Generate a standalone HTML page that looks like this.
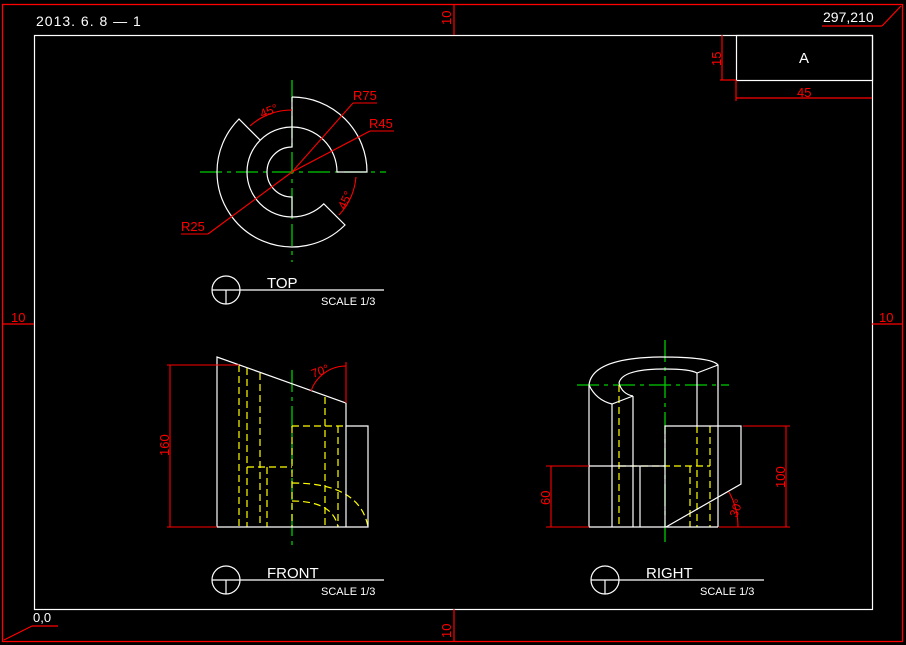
<!DOCTYPE html>
<html><head><meta charset="utf-8"><style>
html,body{margin:0;padding:0;background:#000;}
svg{display:block;}
text{font-family:"Liberation Sans",sans-serif;}
</style></head><body>
<svg width="906" height="645" viewBox="0 0 906 645" xmlns="http://www.w3.org/2000/svg">
<rect width="906" height="645" fill="#000"/>
<!-- borders -->
<rect x="2.5" y="4.5" width="900" height="637" fill="none" stroke="#f00" stroke-width="1.3"/>
<rect x="34.5" y="35.5" width="838" height="574" fill="none" stroke="#fff" stroke-width="1.2"/>
<g stroke="#f00" stroke-width="1.2" fill="none">
<line x1="2" y1="324" x2="34" y2="324"/>
<line x1="872" y1="324" x2="903" y2="324"/>
<line x1="454" y1="4" x2="454" y2="35"/>
<line x1="454" y1="609" x2="454" y2="641"/>
<line x1="822" y1="26" x2="882" y2="26" stroke="#f00"/>
<line x1="882" y1="26" x2="901" y2="6"/>
<line x1="32" y1="626" x2="58" y2="626"/>
<line x1="32" y1="626" x2="4" y2="640"/>
</g>
<g fill="#f00" font-size="13">
<text x="11" y="322">10</text>
<text x="879" y="322">10</text>
<text transform="translate(451,25) rotate(-90)">10</text>
<text transform="translate(451,638) rotate(-90)">10</text>
</g>
<g fill="#fff" font-size="14">
<text x="36" y="26" letter-spacing="1">2013. 6. 8 — 1</text>
<text x="823" y="22">297,210</text>
<text x="33" y="622" font-size="13">0,0</text>
</g>
<!-- title block -->
<rect x="736.5" y="35.5" width="136" height="45" fill="none" stroke="#fff" stroke-width="1.2"/>
<text x="799" y="63" fill="#fff" font-size="15">A</text>
<g stroke="#f00" stroke-width="1.2">
<line x1="722" y1="35" x2="722" y2="80"/><line x1="720" y1="80" x2="736" y2="80"/>
<line x1="736" y1="98" x2="872" y2="98"/><line x1="736" y1="80" x2="736" y2="101"/>
</g>
<text transform="translate(721,66) rotate(-90)" fill="#f00" font-size="13">15</text>
<text x="797" y="97" fill="#f00" font-size="13">45</text>

<!-- TOP VIEW -->
<g stroke="#0c0" stroke-width="1.3" stroke-dasharray="22,5,4,5">
<line x1="200" y1="172" x2="386" y2="172"/>
<line x1="292" y1="80" x2="292" y2="262"/>
</g>
<g stroke="#fff" stroke-width="1.2" fill="none">
<path d="M292,97 A75,75 0 0 1 367,172 L337,172 A45,45 0 0 0 292,127 A45,45 0 0 0 260.2,140.2 L239,119 A75,75 0 0 0 217,172 A75,75 0 0 0 345,225 L323.8,203.8 A45,45 0 0 1 292,217 A45,45 0 0 1 247,172 A45,45 0 0 1 260.2,140.2"/>
<path d="M292,97 L292,147 A25,25 0 0 0 292,197 L292,217"/>
</g>
<g stroke="#f00" stroke-width="1.1" fill="none">
<line x1="292" y1="172" x2="353" y2="103"/><line x1="353" y1="103" x2="377" y2="103"/>
<line x1="292" y1="172" x2="370" y2="131"/><line x1="370" y1="131" x2="394" y2="131"/>
<line x1="292" y1="172" x2="208" y2="234"/><line x1="181" y1="234" x2="208" y2="234"/>
<path d="M292,110 A62,62 0 0 0 250,126"/>
<path d="M356,177 A64,64 0 0 1 339,215"/>
</g>
<g fill="#f00" font-size="13">
<text x="353" y="100">R75</text>
<text x="369" y="128">R45</text>
<text x="181" y="231">R25</text>
<text transform="translate(262,118) rotate(-22)" font-size="12">45°</text>
<text transform="translate(345,210) rotate(-65)" font-size="12">45°</text>
</g>
<!-- labels -->
<g stroke="#fff" stroke-width="1.2" fill="none">
<circle cx="226" cy="290" r="14"/><line x1="212" y1="290" x2="384" y2="290"/><line x1="226" y1="290" x2="226" y2="304"/>
<circle cx="226" cy="580" r="14"/><line x1="212" y1="580" x2="384" y2="580"/><line x1="226" y1="580" x2="226" y2="594"/>
<circle cx="605" cy="580" r="14"/><line x1="591" y1="580" x2="764" y2="580"/><line x1="605" y1="580" x2="605" y2="594"/>
</g>
<g fill="#fff">
<text x="267" y="288" font-size="15">TOP</text>
<text x="321" y="305" font-size="11">SCALE 1/3</text>
<text x="267" y="578" font-size="15">FRONT</text>
<text x="321" y="595" font-size="11">SCALE 1/3</text>
<text x="646" y="578" font-size="15">RIGHT</text>
<text x="700" y="595" font-size="11">SCALE 1/3</text>
</g>

<!-- FRONT VIEW -->
<line x1="292" y1="370" x2="292" y2="545" stroke="#0c0" stroke-width="1.3" stroke-dasharray="22,5,4,5"/>
<g stroke="#ff0" stroke-width="1.2" fill="none" stroke-dasharray="7,4">
<line x1="239" y1="365" x2="239" y2="527"/>
<line x1="247" y1="368" x2="247" y2="527"/>
<line x1="260" y1="373" x2="260" y2="527"/>
<line x1="267" y1="467" x2="267" y2="527"/>
<line x1="325" y1="397" x2="325" y2="527"/>
<line x1="338" y1="426" x2="338" y2="527"/>
<line x1="247" y1="467" x2="292" y2="467"/>
<line x1="292" y1="426" x2="292" y2="527"/>
<line x1="292" y1="426" x2="346" y2="426"/>
<path d="M292,483 Q360,483 368,527"/>
<path d="M292,501 Q333,501 338,527"/>
</g>
<g stroke="#fff" stroke-width="1.2" fill="none">
<path d="M217,527 L217,357 L346,403 L346,527"/>
<path d="M217,527 L368,527 L368,426 L346,426"/>
</g>
<g stroke="#f00" stroke-width="1.1" fill="none">
<line x1="170" y1="365" x2="170" y2="527"/>
<line x1="167" y1="365" x2="239" y2="365"/>
<line x1="167" y1="527" x2="217" y2="527"/>
<line x1="346" y1="362" x2="346" y2="403"/>
<path d="M311,391 A37,37 0 0 1 346,366"/>
</g>
<text transform="translate(169,456) rotate(-90)" fill="#f00" font-size="13">160</text>
<text transform="translate(313,378) rotate(-20)" fill="#f00" font-size="12">70°</text>

<!-- RIGHT VIEW -->
<g stroke="#0c0" stroke-width="1.3" stroke-dasharray="22,5,4,5">
<line x1="577" y1="385" x2="729" y2="385"/>
<line x1="665" y1="340" x2="665" y2="545"/>
</g>
<g stroke="#ff0" stroke-width="1.2" fill="none" stroke-dasharray="7,4">
<line x1="619" y1="385" x2="619" y2="527"/>
<line x1="619" y1="466" x2="710" y2="466"/>
<line x1="690" y1="466" x2="690" y2="527"/>
<line x1="697" y1="426" x2="697" y2="527"/>
<line x1="710" y1="426" x2="710" y2="527"/>
</g>
<g stroke="#fff" stroke-width="1.2" fill="none">
<path d="M589,527 L589,385 Q592,358 660,357 Q712,357 718,365 L718,527"/>
<path d="M589,385 Q596,400 612,404 L633,396"/>
<path d="M619,383 Q622,369 665,369 Q690,369 697,373 L718,365"/>
<path d="M619,383 Q622,394 633,396"/>
<line x1="697" y1="373" x2="697" y2="426"/>
<line x1="612" y1="404" x2="612" y2="527"/>
<line x1="633" y1="396" x2="633" y2="527"/>
<line x1="640" y1="466" x2="640" y2="527"/>
<line x1="589" y1="466" x2="665" y2="466"/>
<line x1="589" y1="527" x2="718" y2="527"/>
<path d="M665,527 L665,426 L741,426 L741,484 L666,527"/>
</g>
<g stroke="#f00" stroke-width="1.1" fill="none">
<line x1="551" y1="466" x2="551" y2="527"/>
<line x1="546" y1="466" x2="589" y2="466"/>
<line x1="546" y1="527" x2="589" y2="527"/>
<line x1="786" y1="426" x2="786" y2="527"/>
<line x1="743" y1="426" x2="790" y2="426"/>
<line x1="719" y1="527" x2="790" y2="527"/>
<path d="M729,492 A72,72 0 0 1 738,527"/>
</g>
<text transform="translate(550,505) rotate(-90)" fill="#f00" font-size="13">60</text>
<text transform="translate(785,488) rotate(-90)" fill="#f00" font-size="13">100</text>
<text transform="translate(737,518) rotate(-70)" fill="#f00" font-size="12">30°</text>
</svg>
</body></html>
